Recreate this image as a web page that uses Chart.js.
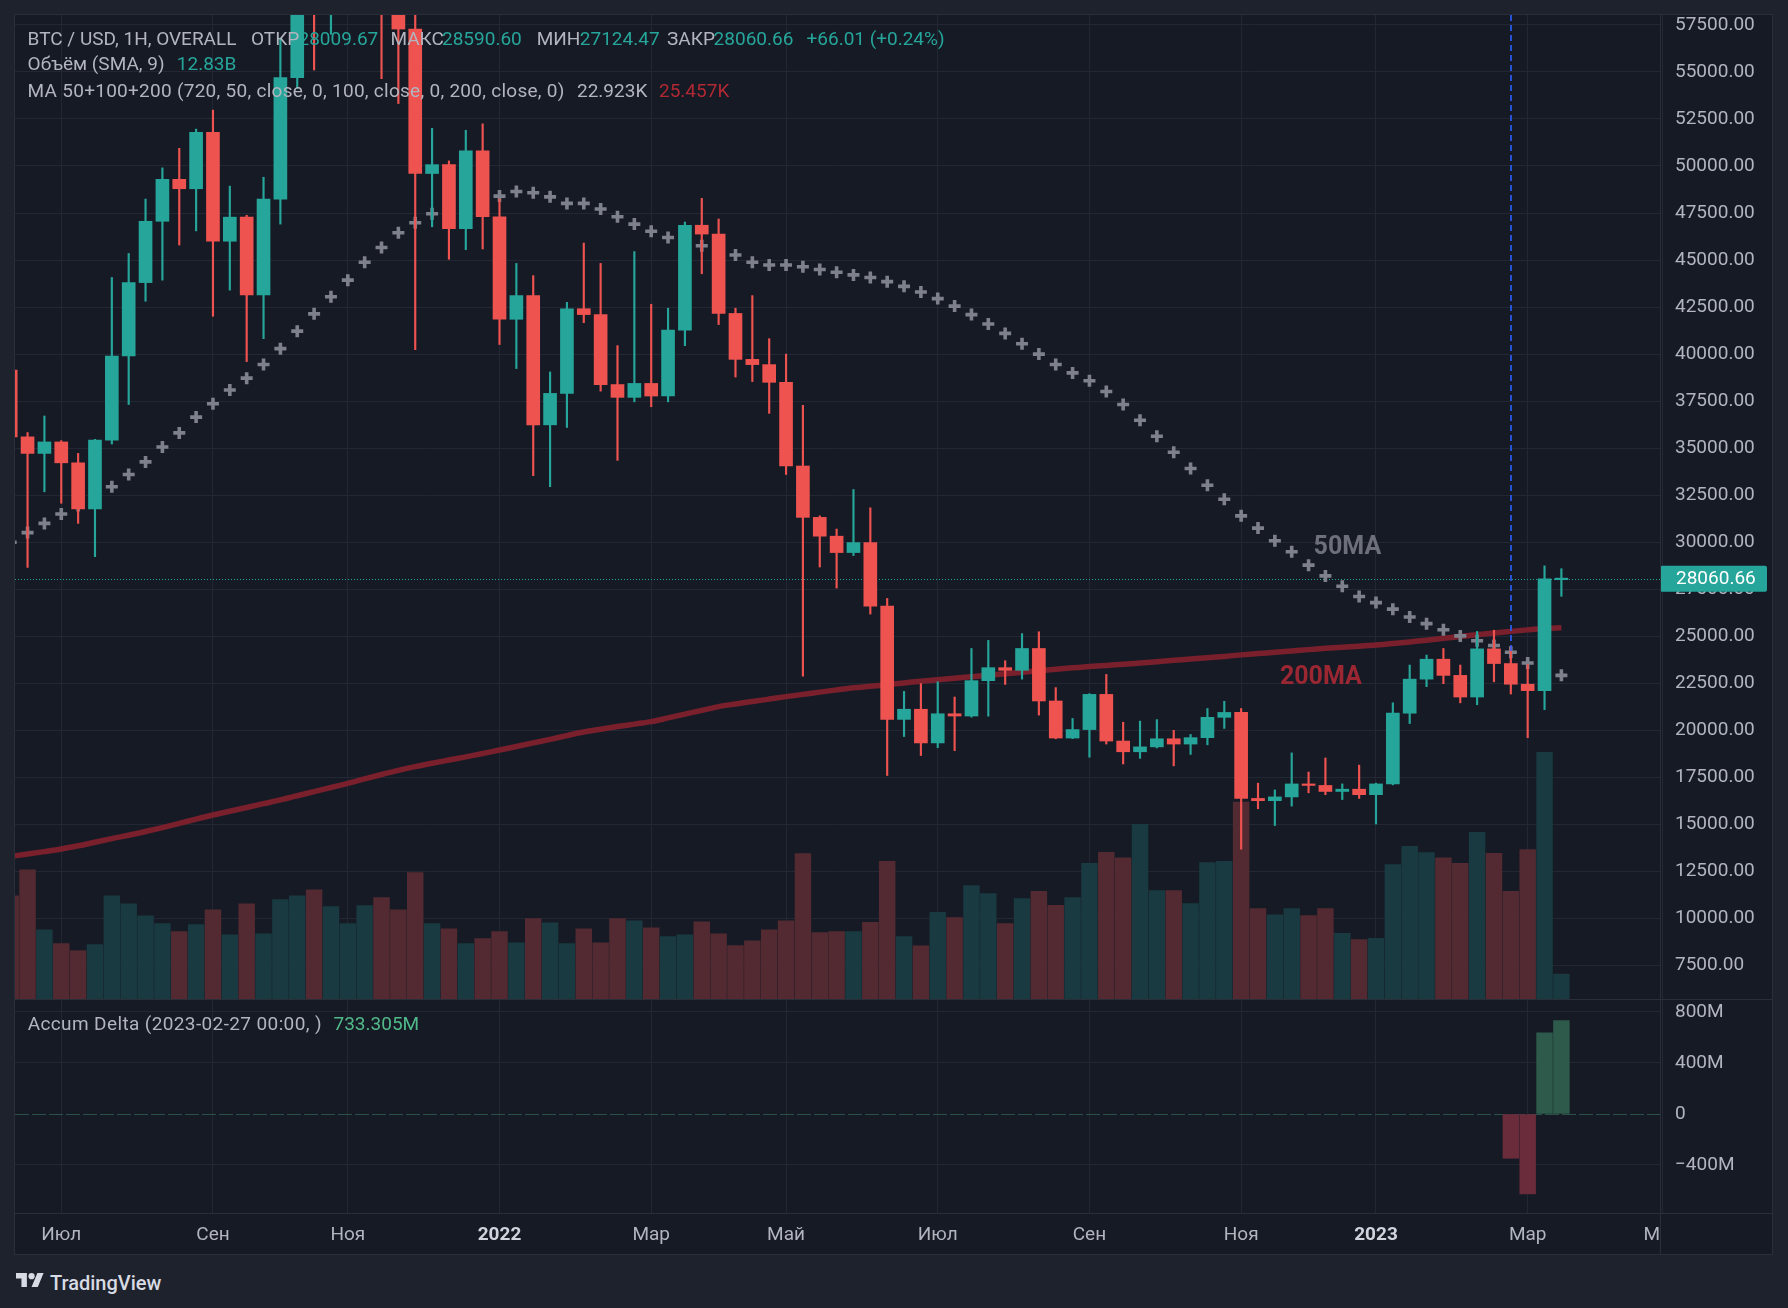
<!DOCTYPE html>
<html lang="ru"><head><meta charset="utf-8"><title>BTC / USD</title>
<script src="https://cdn.jsdelivr.net/npm/chart.js@4.4.1/dist/chart.umd.min.js"></script>
<style>
html,body{margin:0;padding:0;}
body{width:1788px;height:1308px;background:#1e222d;position:relative;overflow:hidden;font-family:Roboto,"Noto Sans",sans-serif;}
.pane{position:absolute;left:15px;top:15px;width:1757px;height:1239px;background:#161a25;}
canvas{position:absolute;z-index:1;}
#main{left:15px;top:15px;}
#delta{left:15px;top:1000px;}
.ln{position:absolute;background:#2a2e39;z-index:5;}
.t{position:absolute;z-index:6;font-size:19px;line-height:22px;white-space:pre;color:#b2b5be;}
#logo{position:absolute;left:15.6px;top:1270px;z-index:6;}
#tv{position:absolute;left:50px;top:1271px;font-size:20px;line-height:24px;font-weight:500;color:#d8dbe3;z-index:6;}
</style></head><body>
<div class="pane"></div>
<canvas id="main" width="1757" height="984"></canvas>
<canvas id="delta" width="1757" height="254"></canvas>
<div class="ln" style="left:14px;top:14px;width:1759px;height:1px"></div>
<div class="ln" style="left:14px;top:1254px;width:1759px;height:1px"></div>
<div class="ln" style="left:14px;top:14px;width:1px;height:1241px"></div>
<div class="ln" style="left:1772px;top:14px;width:1px;height:1241px"></div>
<div class="ln" style="left:15px;top:999px;width:1757px;height:1px"></div>
<div class="ln" style="left:15px;top:1213px;width:1757px;height:1px"></div>
<div class="ln" style="left:1660px;top:15px;width:1px;height:1239px"></div>
<div id="legend"></div>
<svg id="logo" width="28" height="21.8" viewBox="0 0 36 28"><path fill="#d8dbe3" d="M14 22H7V11H0V4h14v18zM28 22h-8l7.5-18h8L28 22z"/><circle fill="#d8dbe3" cx="20" cy="8" r="4"/></svg>
<div id="tv">TradingView</div>
<script>
// ---------- data (weekly bars) ----------
const opens=[39150,35600,34720,35330,34220,31770,35430,39900,43800,47060,
49290,48790,51790,46000,47280,43150,48240,54700,61500,60900,
61300,63300,65500,58600,57280,49600,50070,46670,50800,47300,
41850,43110,36240,37910,42410,42100,38380,37700,38440,37770,
41270,46850,46380,42160,39720,39440,38500,34050,31320,30320,
29450,29980,26600,20580,21120,19330,20880,20760,22640,23330,
23190,24350,21560,19590,20040,21910,19430,18860,19120,19550,
19270,19610,20690,20950,16380,16260,16460,17150,17070,16750,
16870,16580,17150,20910,22720,23780,22920,21770,24330,23550,
22450,22110,28009.67];
const highs=[41000,35830,36710,35400,34720,35470,44070,45350,48240,49900,
50940,51960,52970,48930,47380,49400,56770,62900,67000,63700,
64200,69000,66300,59300,59000,52000,50270,51900,52240,48240,
44820,44170,39050,42750,45900,44820,40450,45450,42650,42440,
47020,48280,47180,42440,43110,40820,40000,37280,31400,30700,
32800,31830,27010,22070,22480,22580,21770,24350,24780,23700,
25140,25240,22270,20630,21950,22970,20430,20490,20570,20000,
19780,21160,21540,21160,17190,16830,18800,17780,18530,17150,
18150,17190,21460,23470,24000,24350,23470,25260,25320,24410,
23490,28740,28590.60];
const lows=[34800,28660,32680,32070,31000,29230,35220,37320,42810,43930,
45800,46550,42010,43400,39600,40820,46910,54130,55100,57000,
59500,62300,54640,53320,40240,46770,45040,45550,45590,40510,
39230,33540,32950,36100,41670,38030,34350,37460,37200,37460,
40450,44270,41570,38780,38540,36850,33600,22880,28680,27560,
29290,26180,17600,19670,18660,19080,18920,20700,20750,22440,
22720,20810,19550,19560,18570,19270,18210,18510,19060,18110,
18720,19230,20100,13680,15830,14940,15970,16680,16580,16320,
16380,15020,17100,20360,22320,22480,21460,21360,22580,21930,
19610,21100,27124.47];
const closes=[35600,34720,35330,34220,31770,35430,39900,43800,47060,49290,
48790,51790,46000,47280,43150,48240,54700,61500,60900,61300,
63300,65500,58600,57280,49600,50070,46670,50800,47300,41850,
43110,36240,37910,42410,42100,38380,37700,38440,37770,41270,
46850,46380,42160,39720,39440,38500,34050,31320,30320,29450,
29980,26600,20580,21120,19330,20880,20760,22640,23330,23190,
24350,21560,19590,20040,21910,19430,18860,19120,19550,19270,
19610,20690,20950,16380,16260,16460,17150,17070,16750,16870,
16580,17150,20910,22720,23780,22920,21770,24330,23550,22450,
22110,28050,28060.66];
// volume, billions
const volumes=[53.2,66.6,35.7,28.5,24.9,28.0,53.2,49.1,42.9,38.8,
34.7,38.3,46.0,33.1,49.1,33.6,51.2,53.2,56.3,47.6,
38.8,48.1,52.2,46.0,65.1,38.8,36.2,28.5,31.1,34.7,
29.0,41.4,39.3,28.5,36.2,29.0,41.4,40.3,36.7,32.1,
33.1,39.8,33.6,27.5,30.0,35.7,40.3,74.9,34.2,34.7,
34.7,39.5,70.9,32.2,27.4,44.6,42.0,58.4,54.3,38.9,
51.7,55.5,48.2,52.3,69.9,75.6,72.8,90.0,55.9,55.9,
49.2,70.3,70.9,101.5,46.6,43.4,46.6,43.0,46.6,33.8,
30.6,31.2,69.3,78.6,75.4,72.8,69.9,85.9,75.0,55.5,
77.0,127.1,12.83];
const ma50=[30000,30510,31000,31500,31950,32450,32950,33600,34270,35060,
35810,36650,37360,38090,38720,39450,40290,41220,42140,43050,
43930,44880,45670,46450,46980,47460,47900,48150,48350,48400,
48640,48580,48360,48010,48010,47710,47300,46910,46530,46200,
46000,45760,45500,45270,44880,44740,44740,44640,44500,44350,
44210,44070,43850,43600,43300,42950,42550,42100,41600,41100,
40550,40000,39450,39000,38580,38010,37320,36480,35630,34780,
33920,33030,32280,31400,30750,30080,29490,28780,28210,27660,
27110,26790,26440,26020,25670,25350,25020,24760,24510,24150,
23580,23250,22923];
const ma200=[13300,13420,13550,13690,13860,14050,14240,14420,14620,14830,
15050,15280,15500,15700,15900,16100,16300,16520,16740,16960,
17180,17420,17650,17870,18070,18250,18420,18590,18770,18950,
19140,19330,19520,19720,19910,20060,20200,20330,20460,20660,
20860,21060,21260,21400,21530,21660,21790,21910,22030,22150,
22260,22340,22430,22520,22610,22690,22770,22850,22930,23010,
23090,23170,23250,23320,23390,23450,23510,23580,23650,23720,
23790,23860,23930,24010,24080,24150,24220,24290,24360,24420,
24470,24530,24610,24700,24790,24890,24990,25080,25170,25260,
25340,25410,25457];
// Accum Delta (millions), only last bars present
const deltaVals=Array(89).fill(null).concat([-347,-626,636,733.305]);
const monthTickIdx=[3,12,20,29,38,46,55,64,73,81,90,98];
const monthLabels=['Июл','Сен','Ноя','2022','Мар','Май','Июл','Сен','Ноя','2023','Мар','Май'];
const yearLabels=['2022','2023'];
const priceTicks=[7500,10000,12500,15000,17500,20000,22500,25000,27500,30000,32500,35000,37500,40000,42500,45000,47500,50000,52500,55000,57500];
const deltaTicks=[800,400,0,-400];
const markerIdx=89;
const changeText='+66.01 (+0.24%)';

// ---------- styles ----------
const UP='#26a69a', DOWN='#ef5350', VUP='#193a41', VDOWN='#532a31', DUP='#2d5a4b', DDOWN='#6a2b3a';
const GRID='#232733', TXT='#b2b5be', FONT='Roboto';
const ann={ma50:{i:77.3,p:29690}, ma200:{i:75.3,p:22780}};
const X_MIN=0.255, X_MAX=97.85;
const LAST=closes.length-1;
const idx=closes.map((_,i)=>i);
const isUp=i=>closes[i]>=opens[i];
const noPad=s=>{s.paddingTop=0;s.paddingBottom=0;s.paddingLeft=0;s.paddingRight=0;};

// ---------- legend ----------
const lg=document.getElementById('legend');
function put(txt,left,top,color,ls){const d=document.createElement('div');d.className='t';d.textContent=txt;d.style.left=left+'px';d.style.top=top+'px';if(color)d.style.color=color;if(ls)d.style.letterSpacing=ls+'px';lg.appendChild(d);}
put('BTC / USD, 1H, OVERALL',27.6,27.5);
put('ОТКР',251,27.5); put(opens[LAST].toFixed(2),298.5,27.5,UP);
put('МАКС',390.4,27.5); put(highs[LAST].toFixed(2),442,27.5,UP);
put('МИН',536.7,27.5); put(lows[LAST].toFixed(2),579.8,27.5,UP);
put('ЗАКР',667,27.5); put(closes[LAST].toFixed(2),713.6,27.5,UP);
put(changeText,806.5,27.5,UP);
put('Объём (SMA, 9)',27.6,53); put(volumes[LAST].toFixed(2)+'B',176.8,53,UP);
put('MA 50+100+200 (720, 50, close, 0, 100, close, 0, 200, close, 0)',27.6,79.5,null,0.27);
put((ma50[LAST]/1000).toFixed(3)+'K',577,79.5,TXT);
put((ma200[LAST]/1000).toFixed(3)+'K',659,79.5,'#b22833');
put('Accum Delta (2023-02-27 00:00, )',27.7,1013,null,0.38);
put(deltaVals[LAST].toFixed(3)+'M',333.5,1013,'#51b98a');

// ---------- main chart ----------
const overlay={
  id:'overlay',
  beforeDatasetsDraw(c){
    const {ctx,chartArea:a,scales}=c;
    const yy=Math.round(scales.y.getPixelForValue(closes[LAST]))+0.5;
    ctx.save();ctx.strokeStyle=UP;ctx.lineWidth=1;ctx.setLineDash([1,2]);
    ctx.beginPath();ctx.moveTo(a.left,yy);ctx.lineTo(a.right,yy);ctx.stroke();ctx.restore();
  },
  afterDatasetsDraw(c){
    const {ctx,chartArea:a,scales:{x,y}}=c;
    ctx.save();
    const xx=Math.round(x.getPixelForValue(markerIdx));
    ctx.strokeStyle='#2962ff';ctx.lineWidth=1.6;ctx.setLineDash([6,4]);
    ctx.beginPath();ctx.moveTo(xx,a.top);ctx.lineTo(xx,y.getPixelForValue(ma50[markerIdx]));ctx.stroke();
    ctx.setLineDash([]);
    ctx.font='bold 25px '+FONT;ctx.textBaseline='middle';ctx.textAlign='left';
    ctx.fillStyle='#6d707b';ctx.fillText('50MA',x.getPixelForValue(ann.ma50.i),y.getPixelForValue(ann.ma50.p));
    ctx.fillStyle='#9b2733';ctx.fillText('200MA',x.getPixelForValue(ann.ma200.i),y.getPixelForValue(ann.ma200.p));
    ctx.restore();
  },
  afterDraw(c){
    const {ctx,chartArea:a,scales:{y}}=c;
    const yy=y.getPixelForValue(closes[LAST]);
    ctx.save();ctx.fillStyle=UP;
    ctx.beginPath();ctx.roundRect(a.right,yy-13,107,26,2);ctx.fill();
    ctx.fillStyle='#ffffff';ctx.font='19px '+FONT;ctx.textBaseline='middle';ctx.textAlign='left';
    ctx.fillText(closes[LAST].toFixed(2),a.right+16,yy+1);
    ctx.restore();
  }
};
new Chart(document.getElementById('main'),{
  type:'bar',
  data:{datasets:[
    {type:'bar',label:'bodies',data:idx.map(i=>({x:i,y:[opens[i],closes[i]]})),backgroundColor:idx.map(i=>isUp(i)?UP:DOWN),barThickness:13,minBarLength:1.5,grouped:false,order:1,yAxisID:'y'},
    {type:'bar',label:'wicks',data:idx.map(i=>({x:i,y:[lows[i],highs[i]]})),backgroundColor:idx.map(i=>isUp(i)?UP:DOWN),barThickness:1.5,grouped:false,order:2,yAxisID:'y'},
    {type:'line',label:'MA50',data:idx.map(i=>({x:i,y:ma50[i]})),showLine:false,pointStyle:'cross',pointRadius:6,pointBorderWidth:3.6,pointBorderColor:'#7e818c',pointBackgroundColor:'#7e818c',order:3,yAxisID:'y'},
    {type:'line',label:'MA200',data:idx.map(i=>({x:i,y:ma200[i]})),borderColor:'#7a202d',borderWidth:5.5,pointRadius:0,tension:0.4,cubicInterpolationMode:'monotone',order:4,yAxisID:'y'},
    {type:'bar',label:'vol',data:idx.map(i=>({x:i,y:volumes[i]})),backgroundColor:idx.map(i=>isUp(i)?VUP:VDOWN),barThickness:15.8,grouped:false,order:5,yAxisID:'yv'}
  ]},
  options:{
    animation:false,responsive:false,devicePixelRatio:1,events:[],
    layout:{padding:0,autoPadding:false},
    plugins:{legend:{display:false},tooltip:{enabled:false}},
    scales:{
      x:{type:'linear',min:X_MIN,max:X_MAX,offset:false,
         grid:{color:GRID,offset:false,drawTicks:false},border:{display:false},
         ticks:{display:false},
         afterBuildTicks:s=>{s.ticks=monthTickIdx.map(v=>({value:v}));},
         afterFit:s=>{s.height=0;noPad(s);}},
      y:{position:'right',min:5717,max:58026,
         grid:{color:GRID,drawTicks:false},border:{display:false},
         ticks:{color:TXT,font:{family:FONT,size:19},padding:15,autoSkip:false,callback:v=>v.toFixed(2)},
         afterBuildTicks:s=>{s.ticks=priceTicks.map(v=>({value:v}));},
         afterFit:s=>{s.width=112;noPad(s);}},
      yv:{display:false,min:0,max:507}
    }
  },
  plugins:[overlay]
});

// ---------- delta chart ----------
const dOverlay={
  id:'dOverlay',
  beforeDatasetsDraw(c){
    const {ctx,chartArea:a,scales:{y}}=c;
    const yy=Math.round(y.getPixelForValue(0))+0.5;
    ctx.save();ctx.strokeStyle='#2a5249';ctx.lineWidth=1;ctx.setLineDash([14,3]);
    ctx.beginPath();ctx.moveTo(a.left,yy);ctx.lineTo(a.right,yy);ctx.stroke();ctx.restore();
  },
  afterDraw(c){
    const {ctx,chartArea:a,scales:{x}}=c;
    ctx.save();
    ctx.beginPath();ctx.rect(a.left,a.bottom,a.right-a.left,c.height-a.bottom);ctx.clip();
    ctx.textBaseline='middle';ctx.textAlign='center';
    monthTickIdx.forEach((v,k)=>{
      const lab=monthLabels[k];const yr=yearLabels.includes(lab);
      ctx.font=(yr?'bold ':'')+'19px '+FONT;ctx.fillStyle=yr?'#d1d4dc':TXT;
      ctx.fillText(lab,x.getPixelForValue(v),a.bottom+22);
    });
    ctx.restore();
  }
};
new Chart(document.getElementById('delta'),{
  type:'bar',
  data:{datasets:[
    {type:'bar',data:idx.map(i=>({x:i,y:deltaVals[i]})),backgroundColor:idx.map(i=>deltaVals[i]!==null&&deltaVals[i]<0?DDOWN:DUP),barThickness:15.8,grouped:false}
  ]},
  options:{
    animation:false,responsive:false,devicePixelRatio:1,events:[],
    layout:{padding:0,autoPadding:false},
    plugins:{legend:{display:false},tooltip:{enabled:false}},
    scales:{
      x:{type:'linear',min:X_MIN,max:X_MAX,offset:false,
         grid:{color:GRID,offset:false,drawTicks:false},border:{display:false},
         ticks:{display:false},
         afterBuildTicks:s=>{s.ticks=monthTickIdx.map(v=>({value:v}));},
         afterFit:s=>{s.height=41;noPad(s);}},
      y:{position:'right',min:-776.5,max:894,
         grid:{color:ctx=>ctx.tick&&ctx.tick.value===0?'rgba(0,0,0,0)':GRID,drawTicks:false},border:{display:false},
         ticks:{color:TXT,font:{family:FONT,size:19},padding:15,autoSkip:false,
           callback:v=>v===0?'0':(v<0?'\u2212'+Math.abs(v):v)+'M'},
         afterBuildTicks:s=>{s.ticks=deltaTicks.map(v=>({value:v}));},
         afterFit:s=>{s.width=112;noPad(s);}}
    }
  },
  plugins:[dOverlay]
});
</script>
</body></html>
